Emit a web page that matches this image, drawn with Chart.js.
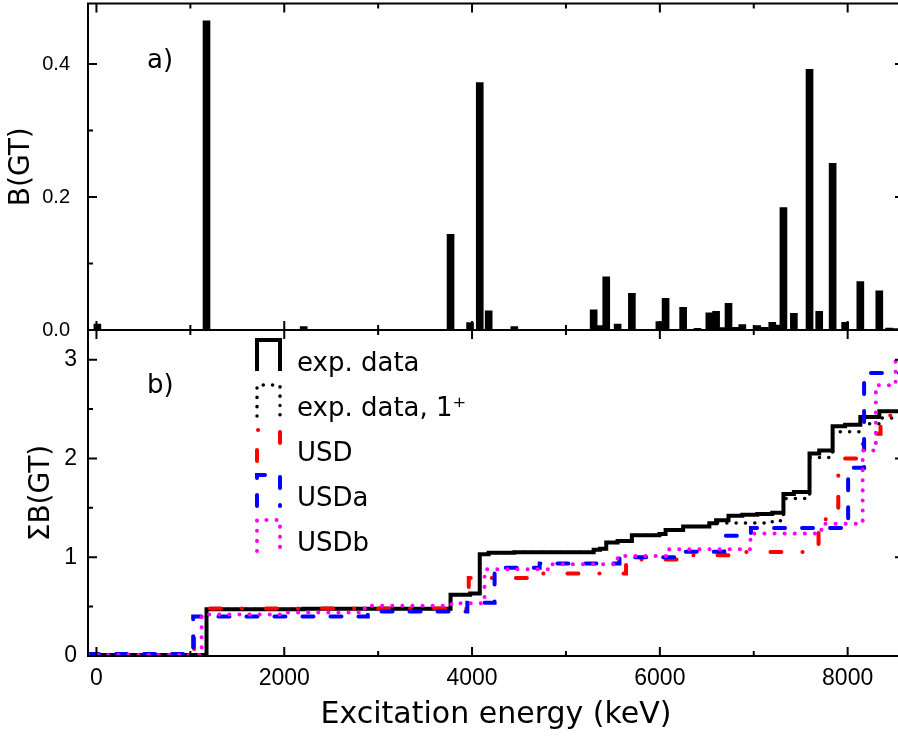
<!DOCTYPE html>
<html><head><meta charset="utf-8">
<script src="https://cdn.jsdelivr.net/npm/chart.js@4.4.1/dist/chart.umd.min.js"></script>
<style>
html,body{margin:0;padding:0;overflow:hidden;background:#fff;width:898px;height:736px}
.wrap{position:absolute;left:0;top:0;width:906px;height:736px}
</style></head><body>
<div class="wrap"><canvas id="topChart"></canvas></div>
<div class="wrap"><canvas id="botChart"></canvas></div>
<script>
// ---------- data ----------
const levelEnergy = [10, 1172, 2207, 3282, 3686, 3771, 3979, 4082, 4177, 4450, 4683, 5295, 5362, 5429, 5550, 5702, 5853, 5995, 6061, 6248, 6401, 6527, 6599, 6665, 6731, 6803, 6878, 7037, 7117, 7197, 7260, 7316, 7427, 7594, 7697, 7840, 7973, 8135, 8337, 8441, 8500];
const levelBGT = [0.009, 0.465, 0.005, 0.001, 0.001, 0.144, 0.011, 0.372, 0.029, 0.005, 0.001, 0.0305, 0.0065, 0.080, 0.009, 0.055, 0.001, 0.0125, 0.0475, 0.034, 0.0025, 0.026, 0.028, 0.0035, 0.040, 0.004, 0.008, 0.0065, 0.004, 0.0115, 0.0075, 0.184, 0.025, 0.392, 0.028, 0.2505, 0.0115, 0.073, 0.059, 0.003, 0.002];

const seriesNames = ['exp. data', 'exp. data, 1\u207A', 'USD', 'USDa', 'USDb'];

const expE = [-90, 10, 1172, 2207, 3771, 3979, 4082, 4177, 4450, 5295, 5362, 5429, 5550, 5702, 5995, 6061, 6248, 6527, 6599, 6731, 6878, 7037, 7197, 7316, 7427, 7594, 7697, 7840, 7973, 8135, 8337, 8600];
const expV = [0, 0.01, 0.474, 0.479, 0.62, 0.632, 1.03, 1.045, 1.05, 1.075, 1.085, 1.15, 1.165, 1.222, 1.235, 1.275, 1.31, 1.345, 1.375, 1.42, 1.43, 1.437, 1.45, 1.64, 1.66, 2.05, 2.08, 2.325, 2.34, 2.42, 2.477, 2.477];

const exp1E = [-90, 10, 1172, 2207, 3771, 3979, 4082, 4177, 4450, 5295, 5362, 5429, 5550, 5702, 5995, 6061, 6248, 6527, 7197, 7316, 7594, 7840, 8135, 8337, 8600];
const exp1V = [0, 0.01, 0.474, 0.479, 0.62, 0.632, 1.03, 1.045, 1.05, 1.075, 1.085, 1.15, 1.165, 1.222, 1.235, 1.275, 1.31, 1.347, 1.37, 1.595, 2.01, 2.27, 2.35, 2.41, 2.41];

const usdE = [-90, 1040, 3965, 4650, 5640, 6207, 6820, 7690, 7900, 8160, 8350, 8600];
const usdV = [0.01, 0.48, 0.79, 0.836, 0.978, 1.02, 1.052, 1.385, 2.0, 2.25, 2.435, 2.435];

const usdaE = [-90, 1030, 2890, 3950, 4240, 4720, 5570, 6225, 6686, 6970, 8005, 8175, 8600];
const usdaV = [0.02, 0.40, 0.45, 0.54, 0.893, 0.937, 1.0, 1.055, 1.216, 1.295, 1.905, 2.865, 2.865];

const usdbE = [-90, 1120, 1985, 2856, 3780, 4133, 4830, 5550, 6100, 6965, 7720, 8160, 8300, 8510, 8600];
const usdbV = [0.01, 0.42, 0.44, 0.509, 0.533, 0.877, 0.93, 1.012, 1.08, 1.24, 1.338, 2.08, 2.74, 3.0, 3.0];

const xMajorTicks = [0, 2000, 4000, 6000, 8000];
const xMinorTicks = [1000, 3000, 5000, 7000];
const yTopMajor = [0, 0.2, 0.4];
const yTopMinor = [0.1, 0.3];
const yBotMajor = [0, 1, 2, 3];
const yBotMinor = [0.5, 1.5, 2.5];

// ---------- helpers ----------
const pts = (E, V) => E.map((e, i) => ({x: e, y: V[i]}));
const setTicks = arr => (s => { s.ticks = arr.map(v => ({value: v})); });
const fixSize = (w, h) => (s => {
  if (w !== null) s.width = w;
  if (h !== null) s.height = h;
  s.paddingTop = 0; s.paddingBottom = 0; s.paddingLeft = 0; s.paddingRight = 0;
});

const frameTicks = {
  id: 'frameTicks',
  afterDatasetsDraw(chart, args, o) {
    const {ctx, chartArea: a, scales} = chart;
    const xs = scales.x, ys = scales.y;
    ctx.save();
    ctx.strokeStyle = '#000';
    ctx.lineWidth = 2;
    ctx.setLineDash([]);
    ctx.beginPath();
    const seg = (x1, y1, x2, y2) => { ctx.moveTo(x1, y1); ctx.lineTo(x2, y2); };
    const xt = (v, L) => { const p = xs.getPixelForValue(v); seg(p, a.top, p, a.top + L); seg(p, a.bottom, p, a.bottom - L); };
    const yt = (v, L) => { const p = ys.getPixelForValue(v); seg(a.left, p, a.left + L, p); seg(a.right, p, a.right - L, p); };
    o.xMajor.forEach(v => xt(v, 9));
    o.xMinor.forEach(v => xt(v, 5));
    o.yMajor.forEach(v => yt(v, 9));
    o.yMinor.forEach(v => yt(v, 5));
    ctx.stroke();
    ctx.strokeRect(a.left, a.top, a.right - a.left, a.bottom - a.top);
    if (o.label) {
      ctx.fillStyle = '#000';
      ctx.font = '26px "DejaVu Sans"';
      ctx.textAlign = 'left';
      ctx.textBaseline = 'alphabetic';
      ctx.fillText(o.label.text, o.label.x, o.label.y);
    }
    ctx.restore();
  }
};

const stepLegend = {
  id: 'stepLegend',
  afterDatasetsDraw(chart, args, o) {
    if (!o.show) return;
    const ctx = chart.ctx;
    ctx.save();
    chart.data.datasets.forEach((ds, i) => {
      const cy = 364 + i * 45;
      const x1 = 257, x2 = 280, ytop = cy - 24, ybot = cy + 7;
      ctx.strokeStyle = ds.borderColor;
      ctx.lineWidth = ds.borderWidth;
      ctx.setLineDash(ds.borderDash || []);
      ctx.lineCap = ds.borderCapStyle || 'butt';
      ctx.lineJoin = 'miter';
      ctx.beginPath();
      ctx.moveTo(x1, ybot); ctx.lineTo(x1, ytop); ctx.lineTo(x2, ytop); ctx.lineTo(x2, ybot);
      ctx.stroke();
      ctx.setLineDash([]);
      ctx.fillStyle = '#000';
      ctx.font = '26px "DejaVu Sans"';
      ctx.textBaseline = 'middle';
      ctx.textAlign = 'left';
      ctx.fillText(ds.label, 297, cy);
    });
    ctx.restore();
  }
};

const tickFont = size => ({family: '"Liberation Sans", Arial, sans-serif', size: size});
const titleFont = size => ({family: '"DejaVu Sans", sans-serif', size: size, lineHeight: 1});

// ---------- top panel: B(GT) bars ----------
new Chart(document.getElementById('topChart'), {
  type: 'bar',
  data: {
    datasets: [{
      label: 'B(GT)',
      data: pts(levelEnergy, levelBGT),
      backgroundColor: '#000',
      borderWidth: 0,
      barThickness: 7
    }]
  },
  options: {
    responsive: true, maintainAspectRatio: false, animation: false, devicePixelRatio: 1,
    layout: {padding: {top: 3.5, right: 2, bottom: 406, left: 0}},
    plugins: {
      legend: {display: false}, tooltip: {enabled: false},
      frameTicks: {xMajor: xMajorTicks, xMinor: xMinorTicks, yMajor: yTopMajor, yMinor: yTopMinor,
                   label: {text: 'a)', x: 147, y: 68}},
      stepLegend: {show: false}
    },
    scales: {
      x: {type: 'linear', min: -90, max: 8600, offset: false,
          grid: {display: false}, border: {display: false},
          ticks: {display: false},
          afterBuildTicks: setTicks(xMajorTicks),
          afterFit: fixSize(null, 0)},
      y: {min: 0, max: 0.491,
          grid: {display: false, drawTicks: false}, border: {display: false},
          afterBuildTicks: setTicks(yTopMajor),
          ticks: {padding: 18, color: '#000', font: tickFont(20), callback: v => Number(v).toFixed(1)},
          title: {display: true, text: 'B(GT)', color: '#000', font: titleFont(28), padding: {top: 8, bottom: 0}},
          afterFit: fixSize(88, null)}
    }
  },
  plugins: [frameTicks, stepLegend]
});

// ---------- bottom panel: cumulative sums ----------
new Chart(document.getElementById('botChart'), {
  type: 'line',
  data: {
    datasets: [
      {label: seriesNames[0], data: pts(expE, expV), borderColor: '#000', borderWidth: 4,
       borderDash: [], borderCapStyle: 'butt', order: 3},
      {label: seriesNames[1], data: pts(exp1E, exp1V), borderColor: '#000', borderWidth: 3.5,
       borderDash: [0.1, 9.2], borderCapStyle: 'round', order: 4},
      {label: seriesNames[2], data: pts(usdE, usdV), borderColor: '#ff0000', borderWidth: 4,
       borderDash: [11, 21, 0.1, 24], borderCapStyle: 'round', order: 2},
      {label: seriesNames[3], data: pts(usdaE, usdaV), borderColor: '#0000ff', borderWidth: 4,
       borderDash: [11, 17], borderCapStyle: 'round', order: 1},
      {label: seriesNames[4], data: pts(usdbE, usdbV), borderColor: '#ff00ff', borderWidth: 4,
       borderDash: [0.1, 10], borderCapStyle: 'round', order: 0}
    ].map(d => Object.assign(d, {stepped: 'before', pointRadius: 0, fill: false, borderJoinStyle: 'miter', tension: 0}))
  },
  options: {
    responsive: true, maintainAspectRatio: false, animation: false, devicePixelRatio: 1,
    layout: {padding: {top: 330, right: 2, bottom: 0, left: 0}},
    plugins: {
      legend: {display: false}, tooltip: {enabled: false},
      frameTicks: {xMajor: xMajorTicks, xMinor: xMinorTicks, yMajor: yBotMajor, yMinor: yBotMinor,
                   label: {text: 'b)', x: 147, y: 393}},
      stepLegend: {show: true}
    },
    scales: {
      x: {type: 'linear', min: -90, max: 8600, offset: false,
          grid: {display: false, drawTicks: false}, border: {display: false},
          afterBuildTicks: setTicks(xMajorTicks),
          ticks: {padding: 9, color: '#000', font: tickFont(23), maxRotation: 0, autoSkip: false, callback: v => String(v)},
          title: {display: true, text: 'Excitation energy (keV)', color: '#000', font: titleFont(30), padding: {top: 0, bottom: 6}},
          afterFit: fixSize(null, 80)},
      y: {min: 0, max: 3.3,
          grid: {display: false, drawTicks: false}, border: {display: false},
          afterBuildTicks: setTicks(yBotMajor),
          ticks: {padding: 11, color: '#000', font: tickFont(23), callback: v => String(v)},
          title: {display: true, text: '\u03A3B(GT)', color: '#000', font: titleFont(28), padding: {top: 28, bottom: 0}},
          afterFit: fixSize(88, null)}
    }
  },
  plugins: [frameTicks, stepLegend]
});
</script>
</body></html>
